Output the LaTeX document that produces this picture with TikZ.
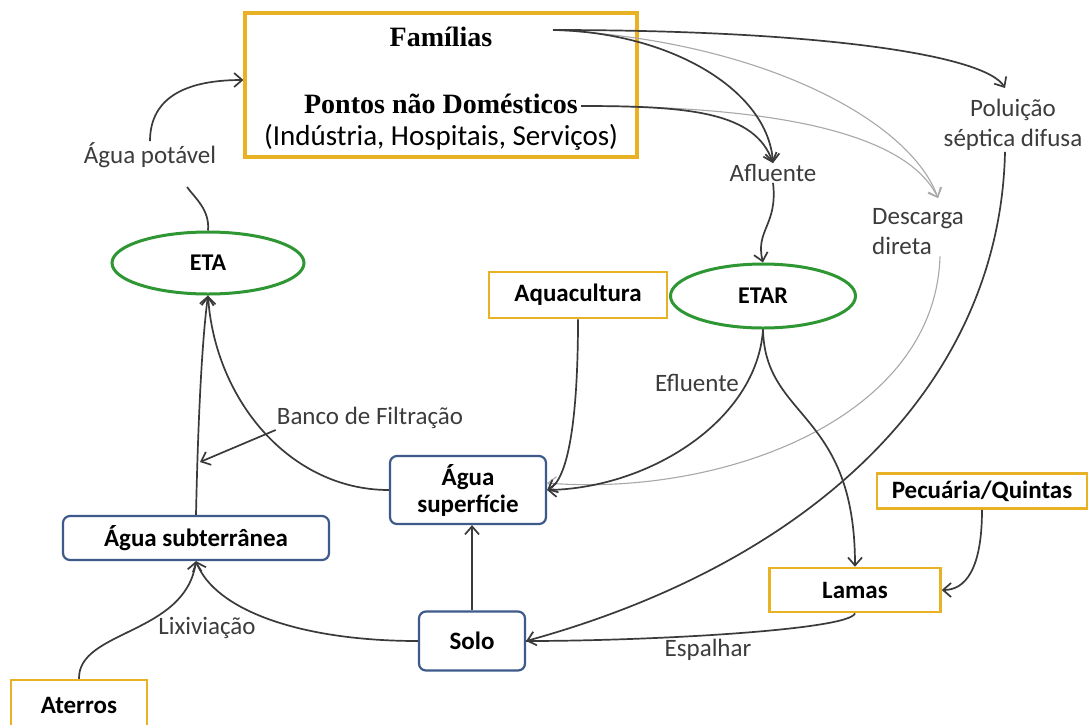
\documentclass[tikz,border=0pt]{standalone}
\usepackage{fontspec}
\setmainfont{Carlito}
\newfontfamily\tnr{Liberation Serif}
\usetikzlibrary{arrows.meta,shapes.geometric}
\definecolor{gold}{HTML}{E8B224}
\definecolor{grn}{HTML}{2E9632}
\definecolor{blu}{HTML}{3D5A8A}
\definecolor{ln}{HTML}{3A3A3A}
\definecolor{lgt}{HTML}{A8A8A8}
\definecolor{txt}{HTML}{3C3C3C}
\tikzset{
  goldbox/.style={draw=gold,line width=2.5pt,fill=white,inner sep=0pt,font=\fontsize{25}{28}\selectfont\bfseries},
  bluebox/.style={draw=blu,line width=2.2pt,rounded corners=7pt,fill=white,inner sep=0pt,font=\fontsize{25}{27}\selectfont\bfseries,align=center},
  greenell/.style={draw=grn,line width=3pt,ellipse,fill=white,inner sep=0pt,font=\fontsize{24}{26}\selectfont\bfseries},
  lbl/.style={text=txt,font=\fontsize{25}{30}\selectfont,inner sep=1pt},
  conn/.style={draw=ln,line width=1.7pt,-{Straight Barb[length=8pt,width=14pt,line width=1.7pt]}},
  connn/.style={draw=ln,line width=1.7pt},
  lconn/.style={draw=lgt,line width=1.1pt,-{Straight Barb[length=8pt,width=14pt,line width=1.1pt]}}
}
\begin{document}
\begin{tikzpicture}[x=1pt,y=-1pt]
\useasboundingbox[fill=white] (0,0) rectangle (1091,724);
% nodes
\node[goldbox,line width=3.2pt,minimum width=392pt,minimum height=144pt] (fam) at (441,85) {};
\node[font=\tnr\fontsize{28}{32}\selectfont\bfseries,inner sep=0pt] (familias) at (441,37) {Famílias};
\node[font=\tnr\fontsize{28}{32}\selectfont\bfseries,inner sep=0pt] (pontos) at (441,104) {Pontos não Domésticos};
\node[font=\fontsize{29}{32}\selectfont,inner sep=0pt] (ind) at (441,137) {(Indústria, Hospitais, Serviços)};
\coordinate (famout) at (553,30);
\coordinate (pontout) at (581,106);

\node[greenell,minimum width=192pt,minimum height=62pt] (eta) at (208,263) {ETA};
\node[greenell,minimum width=185pt,minimum height=64pt] (etar) at (763,296) {ETAR};
\node[goldbox,minimum width=178pt,minimum height=46pt] (aqua) at (578,295) {Aquacultura};
\node[bluebox,minimum width=156pt,minimum height=68pt] (asup) at (468,490) {Água\\superfície};
\node[bluebox,minimum width=266pt,minimum height=44pt] (asub) at (196,538) {Água subterrânea};
\node[bluebox,minimum width=106pt,minimum height=59pt] (solo) at (472,641) {Solo};
\node[goldbox,minimum width=171pt,minimum height=44pt] (lamas) at (855,590) {Lamas};
\node[goldbox,minimum width=210pt,minimum height=35pt] (pecu) at (982,491) {Pecuária/Quintas};
\node[goldbox,minimum width=136pt,minimum height=50pt] (ater) at (79,705) {Aterros};

% labels
\node[lbl] (pot) at (150,155) {Água potável};
\node[lbl] (afl) at (773,173) {Afluente};
\node[lbl,align=left] (desc) at (918,232) {Descarga\\direta};
\node[lbl,align=center] (polu) at (1013,125) {Poluição\\séptica difusa};
\node[lbl] (eflu) at (697,383) {Efluente};
\node[lbl] (banco) at (370,418) {Banco de Filtração};
\node[lbl] (lixi) at (207,628) {Lixiviação};
\node[lbl] (espa) at (708,650) {Espalhar};

% connectors
\draw[connn] (eta.north) .. controls (210,210) and (195,198) .. (187,187);
\draw[conn] (pot.north) .. controls (150,95) and (190,80) .. (fam.west |- 0,80);
\draw[lconn] (famout) .. controls (760,40) and (910,120) .. (938,198);
\draw[lconn] (pontout) .. controls (800,106) and (910,140) .. (938,198);
\draw[conn] (famout) .. controls (670,32) and (768,90) .. (afl.north);
\draw[conn] (pontout) .. controls (690,106) and (755,112) .. (afl.north);
\draw[conn] (famout) .. controls (820,30) and (985,55) .. (1005,88);
\draw[conn] (polu.south -| 1005,160) .. controls (1000,380) and (820,560) .. (solo.east);
\draw[connn] (lamas.south) .. controls (850,630) and (650,641) .. (solo.east);
\draw[conn] (afl.south) .. controls (778,225) and (755,230) .. (etar.north);
\draw[lconn] (desc.south -| 940,265) .. controls (935,420) and (720,497) .. ([yshift=7pt]asup.east);
\draw[conn] (etar.south) .. controls (757,420) and (650,488) .. (asup.east);
\draw[conn] (etar.south) .. controls (765,420) and (855,410) .. (lamas.north);
\draw[conn] (aqua.south) .. controls (578,420) and (568,480) .. (asup.east);
\draw[conn] (pecu.south) .. controls (982,570) and (965,590) .. (lamas.east);
\draw[conn] (solo.north) -- (asup.south -| solo.north);
\draw[conn] (solo.west) .. controls (300,641) and (215,610) .. (asub.south);
\draw[conn] (ater.north) .. controls (78,630) and (185,635) .. (asub.south);
\draw[conn] (asub.north) .. controls (198,420) and (202,340) .. (eta.south);
\draw[conn] (asup.west) .. controls (290,490) and (215,400) .. (eta.south);
\draw[conn] (banco.south west) -- (200,462);
\end{tikzpicture}
\end{document}
